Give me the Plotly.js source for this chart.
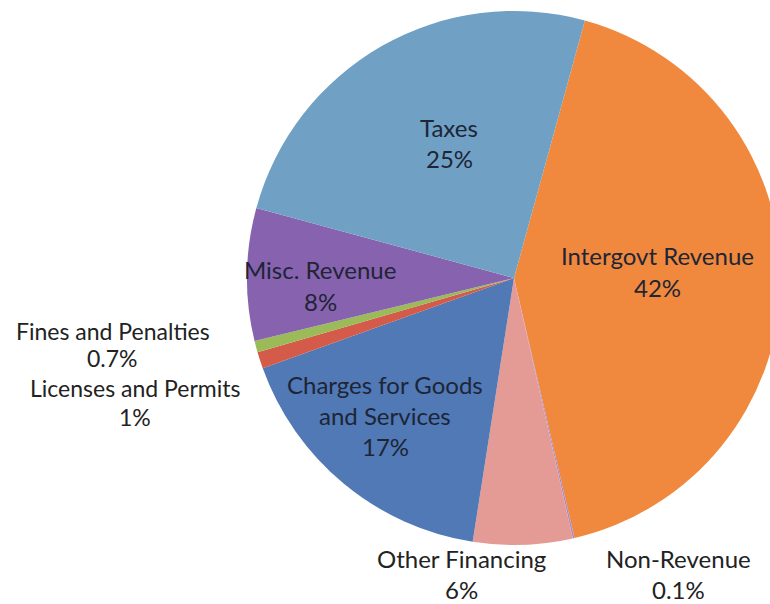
<!DOCTYPE html>
<html>
<head>
<meta charset="utf-8">
<script src="https://cdn.plot.ly/plotly-3.0.1.min.js"></script>
<style>
html,body{margin:0;padding:0;overflow:hidden;background:#fff;width:770px;height:604px;}
#chart{width:782px;height:604px;}
</style>
</head>
<body>
<div id="chart"></div>
<script>
// Data
var categories = ["Intergovt Revenue","Non-Revenue","Other Financing","Charges for Goods and Services","Licenses and Permits","Fines and Penalties","Misc. Revenue","Taxes"];
var values = [42, 0.1, 6, 17, 1, 0.7, 8, 25];
var percentLabels = ["42%","0.1%","6%","17%","1%","0.7%","8%","25%"];
var labelLines = [["Intergovt Revenue"],["Non-Revenue"],["Other Financing"],["Charges for Goods","and Services"],["Licenses and Permits"],["Fines and Penalties"],["Misc. Revenue"],["Taxes"]];
var colors = ["#F0893D","#A88BC6","#E59B95","#5079B5","#D45A4A","#9BBB59","#8762AF","#70A1C4"];

// label anchor positions in pixels (layout only)
var W = 782, H = 604;
var labelPos = [[657,256],[678,558],[461,558],[385,384],[135,388],[113,331],[320,270],[449,127]];
var lineGap = 31.5;

var annotations = [];
for (var i = 0; i < categories.length; i++) {
  var lines = labelLines[i].concat([percentLabels[i]]);
  var small = (i === 4 || i === 5);
  for (var j = 0; j < lines.length; j++) {
    var py = labelPos[i][1] + j * (i === 4 ? 29 : lineGap);
    if (i === 5 && j === 1) py = labelPos[i][1] + 27;
    annotations.push({
      text: lines[j], x: labelPos[i][0] / W, y: 1 - py / H,
      xref: "paper", yref: "paper", showarrow: false,
      xanchor: "center", yanchor: "middle",
      font: {family: "Lato, 'Open Sans', sans-serif", size: small ? 23 : 24, color: (i===0||i===3||i===6||i===7) ? "#1d2536" : "#222222"}
    });
  }
}

var cx = 514, cy = 278, R = 267;
var data = [{
  type: "pie",
  labels: categories,
  values: values,
  sort: false,
  direction: "clockwise",
  rotation: 15.4,
  textinfo: "none",
  hoverinfo: "label+percent",
  marker: {colors: colors, line: {width: 0}},
  domain: {x: [(cx - R) / W, (cx + R) / W], y: [1 - (cy + R) / H, 1 - (cy - R) / H]}
}];

var layout = {
  width: W, height: H,
  margin: {l: 0, r: 0, t: 0, b: 0},
  showlegend: false,
  paper_bgcolor: "#ffffff",
  annotations: annotations
};
Plotly.newPlot("chart", data, layout, {displayModeBar: false, staticPlot: true});
</script>
</body>
</html>
